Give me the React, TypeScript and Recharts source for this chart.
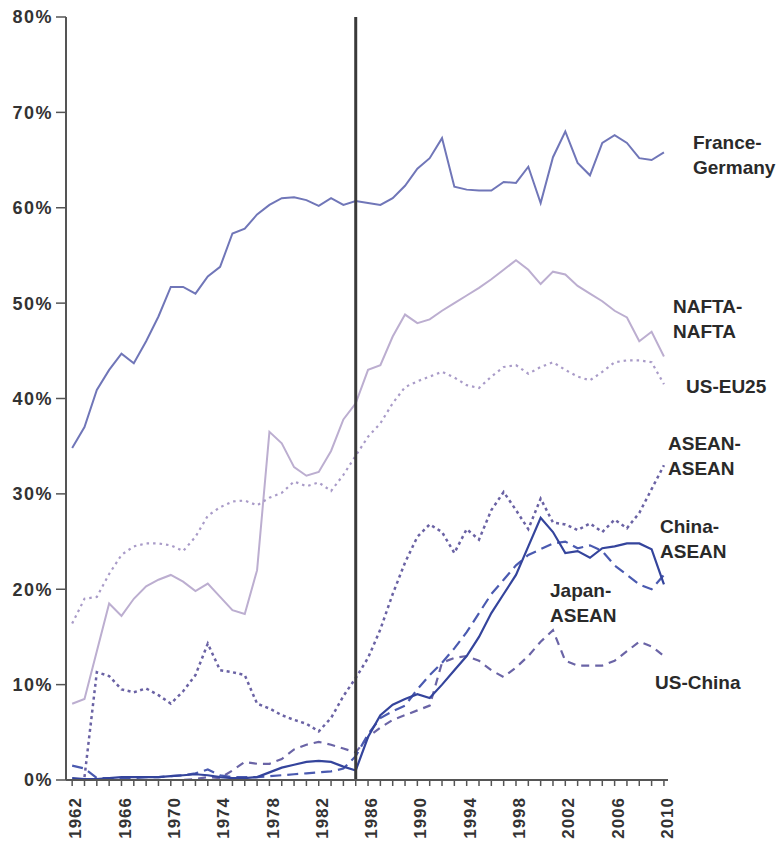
import { LineChart, Line, XAxis, YAxis, ReferenceLine } from "recharts";

const years = [
  1962, 1963, 1964, 1965, 1966, 1967, 1968, 1969, 1970, 1971, 1972, 1973, 1974,
  1975, 1976, 1977, 1978, 1979, 1980, 1981, 1982, 1983, 1984, 1985, 1986, 1987,
  1988, 1989, 1990, 1991, 1992, 1993, 1994, 1995, 1996, 1997, 1998, 1999, 2000,
  2001, 2002, 2003, 2004, 2005, 2006, 2007, 2008, 2009, 2010,
];

const franceGermany = [
  34.8, 37, 40.9, 43, 44.7, 43.7, 46, 48.6, 51.7, 51.7, 51, 52.8, 53.8, 57.3,
  57.8, 59.3, 60.3, 61, 61.1, 60.8, 60.2, 61, 60.3, 60.7, 60.5, 60.3, 61, 62.3,
  64.1, 65.2, 67.3, 62.2, 61.9, 61.8, 61.8, 62.7, 62.6, 64.3, 60.5, 65.3, 68,
  64.7, 63.4, 66.8, 67.6, 66.8, 65.2, 65, 65.8,
];

const naftaNafta = [
  8, 8.5, 13.5, 18.5, 17.2, 19, 20.3, 21, 21.5, 20.8, 19.8, 20.6, 19.2, 17.8,
  17.4, 22, 36.5, 35.3, 32.8, 31.9, 32.3, 34.5, 37.8, 39.5, 43, 43.5, 46.5, 48.8,
  47.9, 48.3, 49.2, 50, 50.8, 51.6, 52.5, 53.5, 54.5, 53.5, 52, 53.3, 53, 51.8,
  51, 50.2, 49.2, 48.5, 46, 47, 44.4,
];

const usEu25 = [
  16.4, 19, 19.2, 21.6, 23.6, 24.5, 24.8, 24.8, 24.6, 24, 25.5, 27.7, 28.6, 29.2,
  29.3, 28.8, 29.6, 30.1, 31.3, 30.8, 31.2, 30.3, 32, 34, 36, 37.4, 39.5, 41.2,
  41.8, 42.3, 42.8, 42.2, 41.4, 41.1, 42.3, 43.3, 43.5, 42.6, 43.3, 43.8, 43,
  42.3, 41.9, 42.8, 43.8, 44, 44, 43.8, 41.5,
];

const aseanAsean = [
  null, 0.3, 11.3, 10.9, 9.5, 9.2, 9.6, 8.9, 8, 9.3, 11, 14.3, 11.5, 11.3, 11,
  8, 7.5, 6.8, 6.3, 5.9, 5.1, 6.5, 8.8, 10.7, 12.8, 15.8, 19.5, 22.8, 25.5,
  26.8, 26, 23.8, 26.3, 25.2, 28.3, 30.2, 28.3, 26.3, 29.5, 27, 26.8, 26.2, 26.9,
  26, 27.3, 26.4, 28, 30.5, 33,
];

const chinaAsean = [
  0.2, 0.1, 0.1, 0.2, 0.3, 0.3, 0.3, 0.3, 0.4, 0.5, 0.6, 0.5, 0.3, 0.2, 0.2,
  0.3, 0.8, 1.3, 1.6, 1.9, 2, 1.9, 1.4, 1, 4.5, 6.8, 7.9, 8.5, 9, 8.6, 10, 11.5,
  13, 15, 17.5, 19.5, 21.5, 24.5, 27.5, 26, 23.8, 24, 23.3, 24.3, 24.5, 24.8,
  24.8, 24.2, 20.5,
];

const japanAsean = [
  1.5, 1.2, 0.2, 0.2, 0.2, 0.2, 0.3, 0.3, 0.4, 0.5, 0.7, 1.1, 0.5, 0.3, 0.3,
  0.3, 0.4, 0.5, 0.6, 0.7, 0.8, 0.9, 1.2, 2.5, 4.8, 6.5, 7.2, 7.8, 9.5, 11,
  12.3, 13.8, 15.5, 17.5, 19.5, 21, 22.5, 23.6, 24.2, 24.8, 25, 24.3, 24.6, 24,
  22.5, 21.5, 20.5, 20, 21.5,
];

const usChina = [
  0, 0, 0, 0, 0, 0, 0, 0, 0, 0, 0.1, 0.3, 0.2, 1, 1.9, 1.7, 1.7, 2.2, 3.2, 3.7,
  4, 3.7, 3.3, 2.9, 4.5, 5.5, 6.3, 6.8, 7.3, 7.8, 12.3, 12.8, 13, 12.5, 11.5,
  10.8, 11.8, 13, 14.5, 15.7, 12.5, 12, 12, 12, 12.5, 13.5, 14.5, 14, 13,
];

const yTicks = [0, 10, 20, 30, 40, 50, 60, 70, 80];

const seriesLabels = [
  { lines: ["France-", "Germany"], x: 693, y: 142 },
  { lines: ["NAFTA-", "NAFTA"], x: 673, y: 306 },
  { lines: ["US-EU25"], x: 686, y: 386 },
  { lines: ["ASEAN-", "ASEAN"], x: 668, y: 443 },
  { lines: ["China-", "ASEAN"], x: 660, y: 526 },
  { lines: ["Japan-", "ASEAN"], x: 550, y: 590 },
  { lines: ["US-China"], x: 655, y: 682 },
];

const font = '"Liberation Sans", Arial, sans-serif';

const data = years.map((year, i) => ({
  year,
  franceGermany: franceGermany[i],
  naftaNafta: naftaNafta[i],
  usEu25: usEu25[i],
  aseanAsean: aseanAsean[i],
  chinaAsean: chinaAsean[i],
  japanAsean: japanAsean[i],
  usChina: usChina[i],
}));

function YearTick({ x, y, payload }: any) {
  const year = payload.value;
  const show = (year - 1962) % 4 === 0;
  return (
    <g transform={`translate(${x},${y})`}>
      <line x1={0} x2={0} y1={0} y2={6} stroke="#555" strokeWidth={1.5} />
      {show && (
        <text
          transform="rotate(-90)"
          x={-17}
          y={3}
          dy="0.36em"
          textAnchor="end"
          fontSize={17}
          fontWeight="bold"
          letterSpacing={1}
          fill="#333"
          fontFamily={font}
        >
          {year}
        </text>
      )}
    </g>
  );
}

export default function App() {
  return (
    <div style={{ position: "absolute", left: 0, top: 0, width: 778, height: 845, background: "#fff" }}>
      <LineChart
        width={778}
        height={845}
        data={data}
        margin={{ top: 17, right: 110, bottom: 0, left: 0 }}
      >
        <XAxis
          dataKey="year"
          type="number"
          domain={[1961.5, 2010.33]}
          ticks={years}
          interval={0}
          height={65}
          tickSize={0}
          tickMargin={0}
          tickLine={false}
          tick={<YearTick />}
          axisLine={{ stroke: "#555", strokeWidth: 2 }}
        />
        <YAxis
          type="number"
          domain={[0, 80]}
          ticks={yTicks}
          width={66}
          tickSize={10}
          tickMargin={3}
          tickFormatter={(v) => `${v}%`}
          tick={{ fontSize: 18, fontWeight: "bold", fill: "#333", fontFamily: font, letterSpacing: 1.5 }}
          tickLine={{ stroke: "#555", strokeWidth: 1.5 }}
          axisLine={{ stroke: "#555", strokeWidth: 2 }}
        />
        <Line dataKey="naftaNafta" stroke="#bcaed0" strokeWidth={2} dot={false} isAnimationActive={false} />
        <Line dataKey="usEu25" stroke="#a99bc8" strokeWidth={2.2} strokeDasharray="2.5 4" dot={false} isAnimationActive={false} />
        <Line dataKey="franceGermany" stroke="#7076b8" strokeWidth={2} dot={false} isAnimationActive={false} />
        <Line dataKey="aseanAsean" stroke="#6a62a4" strokeWidth={2.5} strokeDasharray="3 3.5" dot={false} isAnimationActive={false} />
        <Line dataKey="usChina" stroke="#6a64a6" strokeWidth={2.2} strokeDasharray="8 6" dot={false} isAnimationActive={false} />
        <Line dataKey="japanAsean" stroke="#4a5ab0" strokeWidth={2.2} strokeDasharray="11 6" dot={false} isAnimationActive={false} />
        <Line dataKey="chinaAsean" stroke="#34449c" strokeWidth={2.2} dot={false} isAnimationActive={false} />
        <ReferenceLine x={1985} stroke="#3a3a3a" strokeWidth={3} ifOverflow="extendDomain" />
      </LineChart>
      <svg
        width={778}
        height={845}
        style={{ position: "absolute", left: 0, top: 0, pointerEvents: "none" }}
      >
        {seriesLabels.map((lab) =>
          lab.lines.map((t, j) => (
            <text
              key={lab.x + t + j}
              x={lab.x}
              y={lab.y + j * 25}
              dominantBaseline="central"
              fontSize={19}
              fontWeight="bold"
              fill="#2a2a2a"
              fontFamily={font}
            >
              {t}
            </text>
          ))
        )}
      </svg>
    </div>
  );
}
